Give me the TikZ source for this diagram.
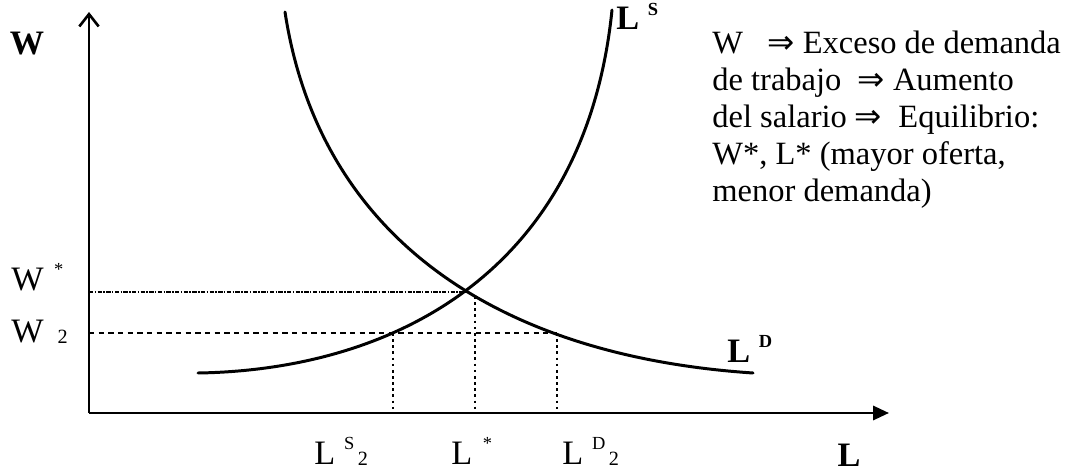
\documentclass[tikz,border=0pt]{standalone}
\usepackage{fontspec}
\setmainfont{Liberation Serif}
\newfontfamily\simb{DejaVu Sans}
\usetikzlibrary{arrows.meta}
\tikzset{
  eje/.style        = {line width=1.5pt},
  curva/.style      = {line width=1.7pt, line cap=round},
  guia/.style       = {line width=0.9pt, dash pattern=on 1.5pt off 2pt},
  guiarayada/.style = {line width=0.8pt, dash pattern=on 3pt off 2.5pt},
  guiaeq/.style     = {line width=0.9pt, dash pattern=on 2.5pt off 0.8pt on 0.8pt off 0.8pt},
  etiq/.style       = {inner sep=0pt, font=\fontsize{19.5}{21}\selectfont},
  etiqb/.style      = {inner sep=0pt, font=\fontsize{19.5}{21}\selectfont\bfseries}
}
\newcommand{\supr}[1]{\raisebox{8.5pt}{\fontsize{10.5}{10}\selectfont #1}}
\newcommand{\subr}[1]{\raisebox{-1pt}{\fontsize{11.5}{11}\selectfont #1}}
\newcommand{\impl}{{\simb ⇒}}

\begin{document}
\begin{tikzpicture}[x=0.02cm, y=-0.02cm]
  \useasboundingbox (0,0) rectangle (1081,473);
  \coordinate (O) at (89,413);
  \coordinate (ytop) at (89,12);
  \coordinate (xfin) at (889,413);

  % ejes
  \draw[eje, -{Straight Barb[length=7pt,width=11pt]}] (O) -- (ytop);
  \draw[eje, -{Triangle[length=9pt,width=8pt]}] (O) -- (xfin);
  \node[etiqb] (wlab) at (27,44) {W};
  \node[etiqb] (llab) at (849,455) {L};

  % demanda y oferta
  \coordinate (Dini) at (285,12);
  \coordinate (Dfin) at (753,373);
  \coordinate (Sini) at (198,373);
  \coordinate (Sfin) at (612,10);
  \draw[curva] (Dini) .. controls (318,228) and (485,355) .. (Dfin);
  \draw[curva] (Sini) .. controls (390,370) and (585,275) .. (Sfin);
  \node[etiqb, anchor=base west] (ls) at (616,30) {L\hspace{5pt}\supr{\bfseries S}};
  \node[etiqb, anchor=base west] (ld) at (727,362) {L\hspace{5pt}\supr{\bfseries D}};

  % guias
  \coordinate (Wst) at (89,292);
  \coordinate (E) at (467,292);
  \coordinate (W2) at (89,333);
  \coordinate (D2) at (557,333);
  \draw[guiaeq] (Wst) -- (E);
  \draw[guiarayada] (W2) -- (D2);
  \foreach \x/\ytop in {393/333, 475/296, 557/333}{
    \draw[guia] (\x,\ytop) -- (\x,413);
  }

  % etiquetas de los ejes
  \node[etiq, anchor=base west] (wst) at (11,290) {W\hspace{6pt}\supr{*}};
  \node[etiq, anchor=base west] (wdos) at (11,342) {W\hspace{8pt}\subr{2}};
  \node[etiq, anchor=base west] (ls2) at (314,464) {L\hspace{5pt}\supr{S}\hspace{2pt}\subr{2}};
  \node[etiq, anchor=base west] (lst) at (451,464) {L\hspace{6pt}\supr{*}};
  \node[etiq, anchor=base west] (ld2) at (562,464) {L\hspace{5pt}\supr{D}\hspace{2pt}\subr{2}};

  % explicacion
  \node[etiq, anchor=north west, align=left, font=\fontsize{18.5}{21}\selectfont] (texto) at (712,31)
    {W\hspace{0.75em}\impl{} Exceso de demanda\\
     de trabajo\ \ \impl{} Aumento\\
     del salario \impl\ \ Equilibrio:\\
     W*, L* (mayor oferta,\\
     menor demanda)};
\end{tikzpicture}
\end{document}
